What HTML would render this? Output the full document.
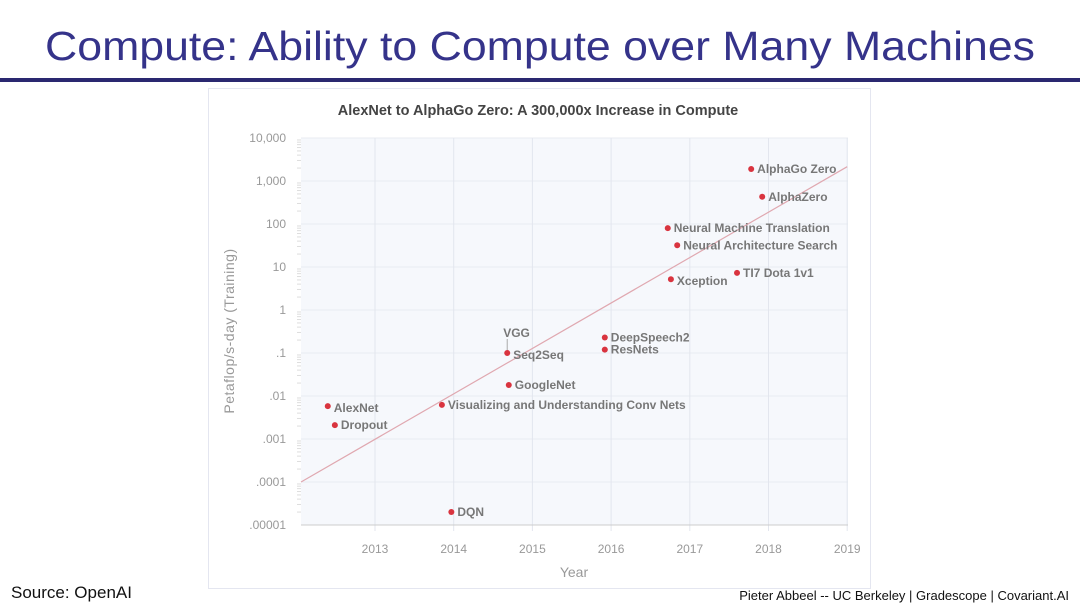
<!DOCTYPE html>
<html><head><meta charset="utf-8"><style>
html,body{margin:0;padding:0;background:#fff;}
svg{display:block;font-family:"Liberation Sans",sans-serif;}
</style></head><body>
<svg width="1080" height="608" viewBox="0 0 1080 608">
<text x="540" y="60" text-anchor="middle" font-size="41" fill="#35338a" textLength="990" lengthAdjust="spacingAndGlyphs">Compute: Ability to Compute over Many Machines</text>
<rect x="0" y="78" width="1080" height="4" fill="#2a2870"/>
<rect x="208.5" y="88.5" width="662" height="500" fill="#fff" stroke="#e4e6f0"/>
<text x="538" y="115" text-anchor="middle" font-size="14.5" font-weight="bold" fill="#444">AlexNet to AlphaGo Zero: A 300,000x Increase in Compute</text>
<g id="plot"></g>
<text x="11" y="598" font-size="17" fill="#111">Source: OpenAI</text>
<text x="1069" y="600" text-anchor="end" font-size="13" fill="#111">Pieter Abbeel -- UC Berkeley | Gradescope | Covariant.AI</text>
</svg>
<script>
const names = ["AlphaGo Zero","AlphaZero","Neural Machine Translation","Neural Architecture Search","Xception","TI7 Dota 1v1","DeepSpeech2","ResNets","Seq2Seq","GoogleNet","Visualizing and Understanding Conv Nets","AlexNet","Dropout","DQN"];
const years = [2017.78,2017.92,2016.72,2016.84,2016.76,2017.6,2015.92,2015.92,2014.68,2014.7,2013.85,2012.4,2012.49,2013.97];
const compute = [1900,430,80,32,5.2,7.3,0.23,0.12,0.1,0.018,0.0062,0.0058,0.0021,0.00002];
const yTickVals = [10000,1000,100,10,1,0.1,0.01,0.001,0.0001,0.00001];
const yTickLabels = ["10,000","1,000","100","10","1",".1",".01",".001",".0001",".00001"];
const xTicks = [2013,2014,2015,2016,2017,2018,2019];
const trendStart = [2012.06,0.0001];
const trendEnd = [2019,2150];

const NS="http://www.w3.org/2000/svg";
const g=document.getElementById('plot');
const L=301,R=848,T=138,B=525;
const xs=y=>375+(y-2013)*78.7;
const ys=v=>T+(4-Math.log10(v))*43;
function mk(tag,a){const e=document.createElementNS(NS,tag);for(const k in a)e.setAttribute(k,a[k]);g.appendChild(e);return e;}
const bg=mk('rect',{x:L,y:T,width:R-L,height:B-T,fill:'#f6f8fc'});


yTickVals.forEach((v,i)=>{
  const y=ys(v);
  const gl=mk('line',{x1:L,x2:R,y1:y,y2:y,stroke:'#e8ebf2'});
  
  
  const t=mk('text',{x:286,y:y+4,'text-anchor':'end','font-size':12,fill:'#999'});t.textContent=yTickLabels[i];
  
  
  if(i<yTickVals.length-1){for(let k=2;k<10;k++){const yy=ys(v/10*k);mk('line',{x1:L-4,x2:L,y1:yy,y2:yy,stroke:'#ddd'});}}
});
xTicks.forEach(yr=>{
  const x=xs(yr);
  const gl=mk('line',{x1:x,x2:x,y1:T,y2:B+6,stroke:'#e3e6ee'});
  
  
  const t=mk('text',{x:x,y:553,'text-anchor':'middle','font-size':12,fill:'#999'});t.textContent=yr;
  
  
});
const ax=mk('line',{x1:L,x2:R,y1:B,y2:B,stroke:'#ccc'});


const xt=mk('text',{x:574,y:577,'text-anchor':'middle','font-size':14,fill:'#999'});xt.textContent='Year';


const yt=mk('text',{x:234,y:331,'text-anchor':'middle','font-size':14,fill:'#999',transform:'rotate(-90 234 331)','letter-spacing':'0.5'});yt.textContent='Petaflop/s-day (Training)';


const tl=mk('line',{x1:xs(trendStart[0]),y1:ys(trendStart[1]),x2:xs(trendEnd[0]),y2:ys(trendEnd[1]),stroke:'#e0a8b0','stroke-width':1.2});


names.forEach((n,i)=>{
  const x=xs(years[i]),y=ys(compute[i]);
  const c=mk('circle',{cx:x,cy:y,r:3,fill:'#d9343f'});
  
  
  const dy=(n==='Seq2Seq'||n==='Xception'||n==='AlexNet')?6:4;
  const t=mk('text',{x:x+6,y:y+dy,'font-size':12,'font-weight':'bold',fill:'#777'});t.textContent=n;
  
  
  if(n==='Seq2Seq'){
    mk('line',{x1:x,x2:x,y1:y-3,y2:y-14,stroke:'#aaa'});
    const v=mk('text',{x:x-4,y:y-16,'font-size':12,'font-weight':'bold',fill:'#777'});v.textContent='VGG';
    
    
  }
});
</script>
</body></html>
